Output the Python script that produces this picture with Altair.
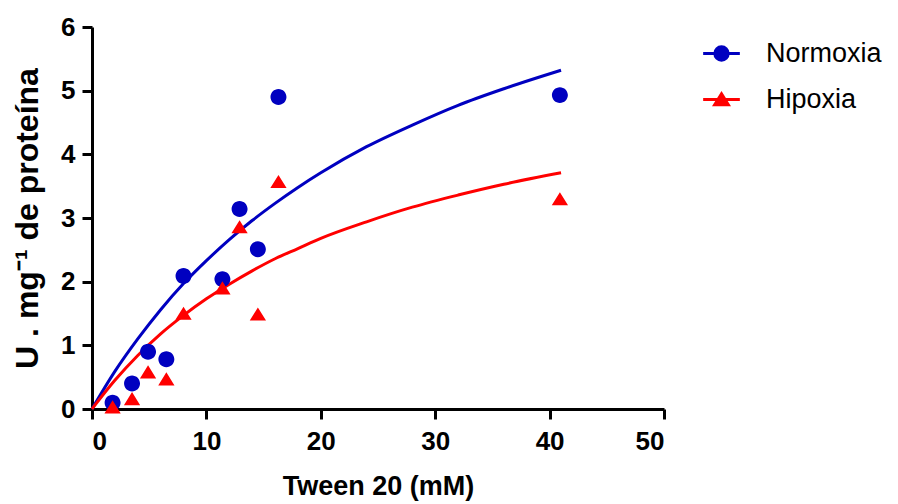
import altair as alt
import pandas as pd

# ---- data ----
series_names = ["Normoxia", "Hipoxia"]
colors = ["#0000C0", "#FF0000"]

tween_x = [1.8, 3.5, 4.9, 6.5, 8.0, 11.4, 12.9, 14.5, 16.3, 40.9]
normoxia_y = [0.10, 0.40, 0.90, 0.78, 2.09, 2.04, 3.14, 2.51, 4.90, 4.93]
hipoxia_y = [0.03, 0.16, 0.58, 0.47, 1.50, 1.90, 2.86, 1.49, 3.57, 3.30]

curve_x = [0, 2, 4, 6, 8, 10, 12, 14, 16, 18, 20, 24, 28, 32, 36, 41]
normoxia_curve = [0.0, 0.59, 1.10, 1.56, 1.97, 2.33, 2.66, 2.96, 3.23, 3.48,
                  3.71, 4.12, 4.46, 4.77, 5.03, 5.32]
hipoxia_curve = [0.0, 0.45, 0.84, 1.18, 1.47, 1.73, 1.96, 2.17, 2.36, 2.52,
                 2.68, 2.94, 3.17, 3.36, 3.53, 3.71]

x_ticks = [0, 10, 20, 30, 40, 50]
y_ticks = [0, 1, 2, 3, 4, 5, 6]

# ---- tables ----
pts = pd.DataFrame(
    [{"x": x, "y": y, "serie": series_names[0], "ord": 0} for x, y in zip(tween_x, normoxia_y)]
    + [{"x": x, "y": y, "serie": series_names[1], "ord": 1} for x, y in zip(tween_x, hipoxia_y)]
)
crv = pd.DataFrame(
    [{"x": x, "y": y, "serie": series_names[0]} for x, y in zip(curve_x, normoxia_curve)]
    + [{"x": x, "y": y, "serie": series_names[1]} for x, y in zip(curve_x, hipoxia_curve)]
)

FONT = "Liberation Sans"

# symbol paths: a horizontal stroke (only visible in the legend) + marker
circle_path = "M-3.1,0H3.1M1.13,0A1.13,1.13,0,1,1,-1.13,0A1.13,1.13,0,1,1,1.13,0Z"
tri_path = "M-3.1,0H3.1M0,-0.95L1.15,0.9L-1.15,0.9Z"

color_scale = alt.Scale(domain=series_names, range=colors)
shape_scale = alt.Scale(domain=series_names, range=[circle_path, tri_path])

leg = alt.Legend(
    title=None,
    orient="none",
    legendX=616,
    legendY=13,
    labelFont=FONT,
    labelFontSize=27,
    labelColor="black",
    labelOffset=31,
    labelLimit=300,
    symbolSize=140,
    symbolStrokeWidth=3,
    rowPadding=18,
    padding=0,
)

x_enc = alt.X(
    "x:Q",
    scale=alt.Scale(domain=[0, 50], nice=False),
    axis=alt.Axis(values=x_ticks, title="Tween 20 (mM)", format="d"),
)
y_enc = alt.Y(
    "y:Q",
    scale=alt.Scale(domain=[0, 6], nice=False),
    axis=alt.Axis(values=y_ticks, title="U . mg⁻¹ de proteína", format="d"),
)

lines = alt.Chart(crv).mark_line(strokeWidth=3, interpolate="monotone").encode(
    x=x_enc,
    y=y_enc,
    color=alt.Color("serie:N", scale=color_scale, legend=leg),
    detail="serie:N",
    order=alt.Order("x:Q"),
)

points = alt.Chart(pts).mark_point(filled=True, size=200, opacity=1).encode(
    x=x_enc,
    y=y_enc,
    color=alt.Color("serie:N", scale=color_scale, legend=leg),
    shape=alt.Shape("serie:N", scale=shape_scale, legend=leg),
    order=alt.Order("ord:Q"),
)

chart = (
    alt.layer(lines, points)
    .properties(
        width=572,
        height=382,
        autosize=alt.AutoSizeParams(type="none"),
        padding={"left": 84, "top": 19, "right": 226, "bottom": 92},
    )
    .configure_view(stroke=None)
    .configure_axis(
        grid=False,
        domainColor="black",
        domainWidth=3,
        tickColor="black",
        tickWidth=3,
        tickSize=10,
        labelFont=FONT,
        labelFontSize=26,
        labelFontWeight="bold",
        labelColor="black",
        titleFont=FONT,
        titleFontWeight="bold",
        titleColor="black",
    )
    .configure_axisX(labelPadding=9, titleFontSize=27, titlePadding=19)
    .configure_axisY(labelPadding=7, titleFontSize=32, titlePadding=16)
)

chart.save("out.html", embed_options={"renderer": "svg", "actions": False})
